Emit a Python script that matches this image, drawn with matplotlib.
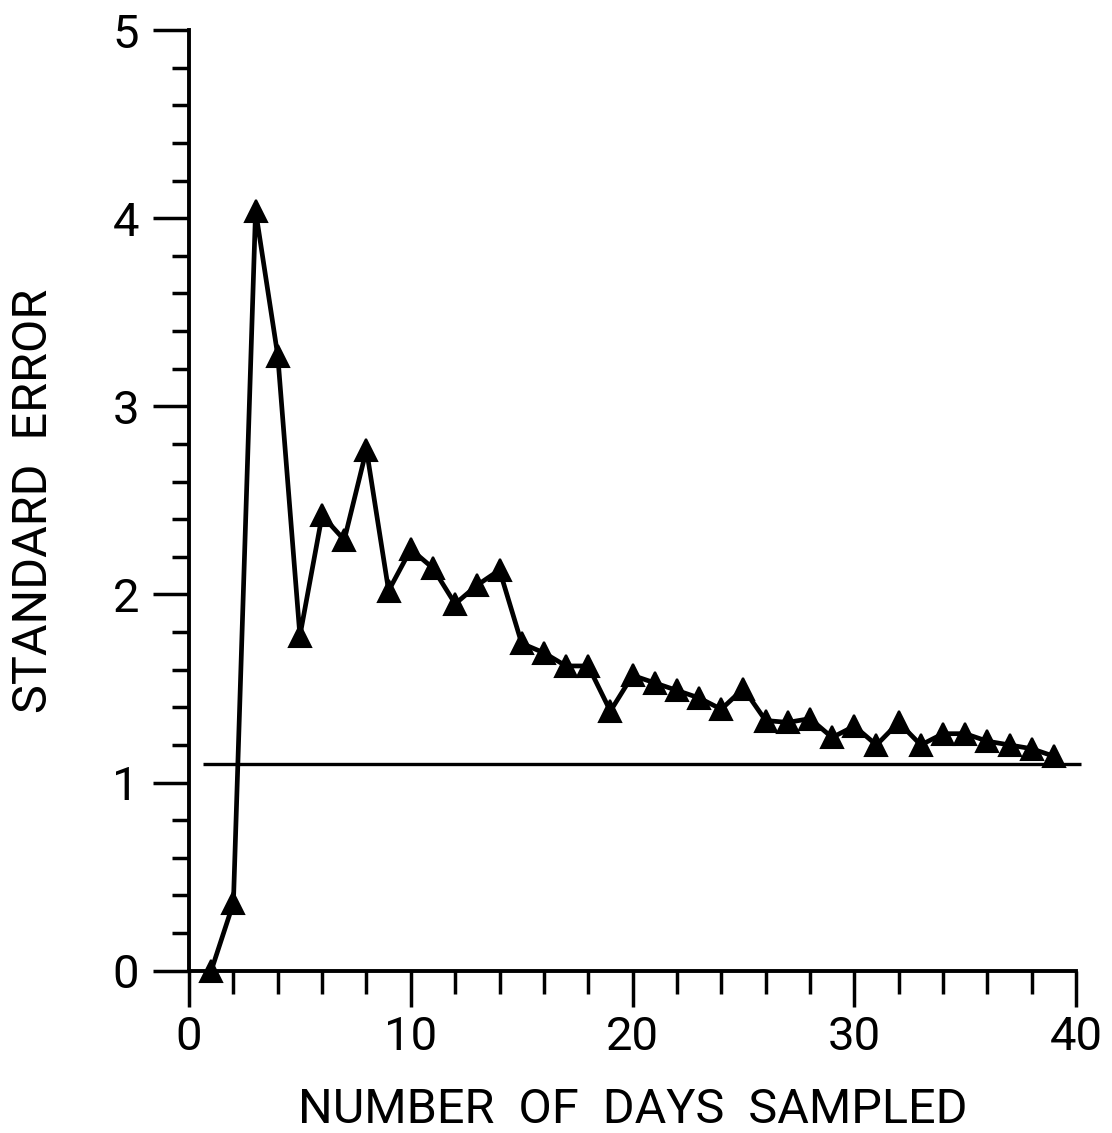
import matplotlib
matplotlib.use("Agg")
import matplotlib.pyplot as plt
from matplotlib.ticker import MultipleLocator

plt.rcParams['font.family'] = ['Roboto', 'DejaVu Sans']

# error estimate vs number of sampling days
dias = list(range(1, 40))
error = [0.00, 0.36, 4.04, 3.27, 1.78, 2.42, 2.29, 2.77, 2.02, 2.24,
         2.14, 1.95, 2.05, 2.13, 1.74, 1.69, 1.62, 1.62, 1.38, 1.57,
         1.53, 1.49, 1.45, 1.39, 1.50, 1.33, 1.32, 1.34, 1.24, 1.30,
         1.20, 1.32, 1.20, 1.26, 1.26, 1.22, 1.20, 1.18, 1.14]
nivel = 1.1          # reference level
nivel_x = [0.65, 40.2]

fig = plt.figure(figsize=(11.12, 11.33), dpi=100)
ax = fig.add_axes([0.170, 0.1432, 0.7977, 0.8303])

ax.plot(dias, error, 'k-', lw=3.4, marker='^', ms=16.5, mec='k', mfc='k',
        mew=1.5, clip_on=False, zorder=3)
ax.hlines(nivel, nivel_x[0], nivel_x[1], colors='k', lw=2.4, clip_on=False)

ax.set_xlim(0, 40)
ax.set_ylim(0, 5)
ax.xaxis.set_major_locator(MultipleLocator(10))
ax.xaxis.set_minor_locator(MultipleLocator(2))
ax.yaxis.set_major_locator(MultipleLocator(1))
ax.yaxis.set_minor_locator(MultipleLocator(0.2))

for lado in ['top', 'right']:
    ax.spines[lado].set_visible(False)
for lado in ['left', 'bottom']:
    ax.spines[lado].set_linewidth(2.8)

ax.tick_params(axis='both', which='major', direction='out', length=26,
               width=2.5, labelsize=34)
ax.tick_params(axis='x', which='major', pad=6)
ax.tick_params(axis='y', which='major', pad=10)
ax.tick_params(axis='x', which='minor', direction='out', length=16.5, width=2.5)
ax.tick_params(axis='y', which='minor', direction='out', length=12, width=2.5)

ax.set_xlabel('NUMBER  OF  DAYS  SAMPLED', fontsize=35, labelpad=20)
ax.set_ylabel('STANDARD  ERROR', fontsize=35, labelpad=40)

fig.savefig('out.png', dpi=100)
